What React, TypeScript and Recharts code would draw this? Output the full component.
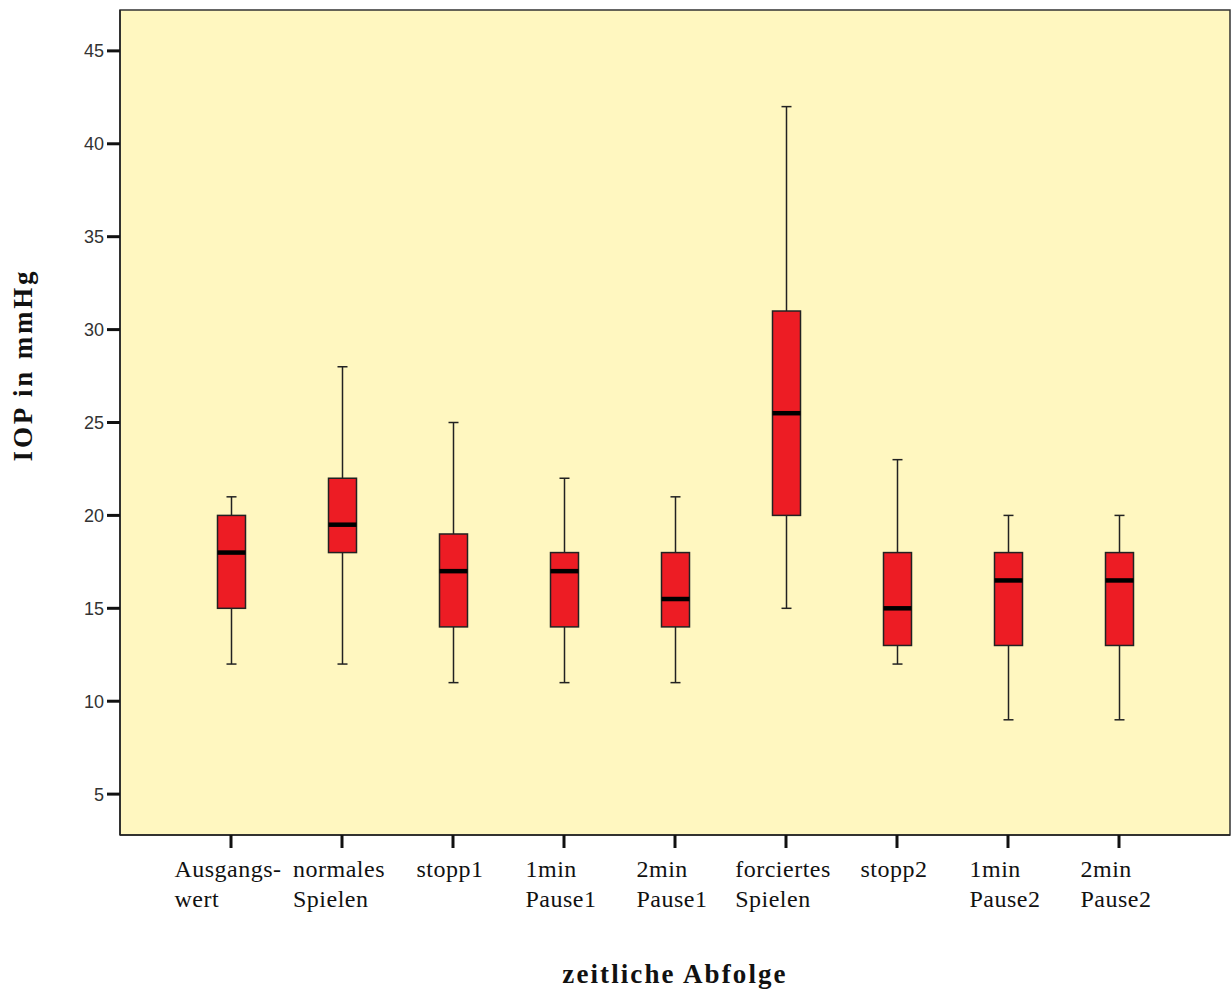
import { ComposedChart, Bar, XAxis, YAxis, ReferenceArea } from 'recharts'

// IOP box plot values
const categories = [
  'Ausgangs-|wert',
  'normales|Spielen',
  'stopp1',
  '1min|Pause1',
  '2min|Pause1',
  'forciertes|Spielen',
  'stopp2',
  '1min|Pause2',
  '2min|Pause2',
]
const mins    = [12, 12, 11, 11, 11, 15, 12, 9, 9]
const q1s     = [15, 18, 14, 14, 14, 20, 13, 13, 13]
const medians = [18, 19.5, 17, 17, 15.5, 25.5, 15, 16.5, 16.5]
const q3s     = [20, 22, 19, 18, 18, 31, 18, 18, 18]
const maxs    = [21, 28, 25, 22, 21, 42, 23, 20, 20]
const yTicks  = [5, 10, 15, 20, 25, 30, 35, 40, 45]

const data = categories.map((c, i) => ({
  pos:    i + 1,
  name:   c,
  min:    mins[i],
  q1:     q1s[i],
  median: medians[i],
  q3:     q3s[i],
  max:    maxs[i],
  range:  [mins[i], maxs[i]],
}))

const TICK_FONT = "24px 'Liberation Serif', 'Times New Roman', serif"
let ctx: CanvasRenderingContext2D | null = null
function textWidth(s: string) {
  if (!ctx) ctx = document.createElement('canvas').getContext('2d')
  if (!ctx) return s.length * 11
  ctx.font = TICK_FONT
  return ctx.measureText(s).width + s.length * 0.5
}

function XTick({ x, y, payload }: any) {
  const label = categories[Math.round(payload.value) - 1] ?? ''
  const lines = label.split('|')
  const w = Math.max(...lines.map(textWidth))
  return (
    <g>
      {lines.map((l, i) => (
        <text key={i} x={x - w / 2 - 3} y={y + 27 + i * 30} textAnchor="start"
          style={{ font: TICK_FONT, letterSpacing: 0.5 }} fill="#111">{l}</text>
      ))}
    </g>
  )
}

function BoxShape(props: any) {
  const { x, y, width, height, payload } = props
  const d = payload
  const span = d.max - d.min
  const py = (v: number) => y + ((d.max - v) / span) * height
  const cx = x + width / 2
  const yMin = py(d.min), yQ1 = py(d.q1), yMed = py(d.median), yQ3 = py(d.q3), yMax = py(d.max)
  const cap = 5
  return (
    <g>
      <line x1={cx} x2={cx} y1={yMax} y2={yQ3} stroke="#222" strokeWidth={1.5} />
      <line x1={cx} x2={cx} y1={yQ1} y2={yMin} stroke="#222" strokeWidth={1.5} />
      <line x1={cx - cap} x2={cx + cap} y1={yMax} y2={yMax} stroke="#222" strokeWidth={1.5} />
      <line x1={cx - cap} x2={cx + cap} y1={yMin} y2={yMin} stroke="#222" strokeWidth={1.5} />
      <rect x={x} y={yQ3} width={width} height={yQ1 - yQ3} fill="#ED1C24" stroke="#222" strokeWidth={1.5} />
      <line x1={x} x2={x + width} y1={yMed} y2={yMed} stroke="#000" strokeWidth={4.5} />
    </g>
  )
}

export default function App() {
  return (
    <div style={{ position: 'absolute', left: 0, top: 0, background: '#fff' }}>
      <ComposedChart width={1231} height={992} data={data}
        margin={{ top: 10, right: 1, left: 0, bottom: 0 }}>
        <ReferenceArea x1={0} x2={10} y1={2.8} y2={47.2} fill="#FFF7C0" fillOpacity={1}
          stroke="#333" strokeWidth={1.5} ifOverflow="visible" />
        <XAxis dataKey="pos" type="number" domain={[0, 10]} ticks={[1, 2, 3, 4, 5, 6, 7, 8, 9]}
          height={157} tickSize={13} tick={<XTick />} interval={0}
          axisLine={{ stroke: '#222', strokeWidth: 1.5 }}
          tickLine={{ stroke: '#111', strokeWidth: 3 }}
          label={({ viewBox }: any) => (
            <text x={viewBox.x + viewBox.width / 2} y={983} textAnchor="middle"
              style={{ font: "bold 27px 'Liberation Serif', serif", letterSpacing: 2.1 }}
              fill="#111">zeitliche Abfolge</text>
          )} />
        <YAxis type="number" domain={[2.8, 47.2]} ticks={yTicks} width={120} tickSize={13}
          tickMargin={3} allowDataOverflow
          tick={{ fill: '#333', fontSize: 18, fontFamily: "'Liberation Sans', Arial, sans-serif" }}
          axisLine={{ stroke: '#222', strokeWidth: 1.5 }}
          tickLine={{ stroke: '#111', strokeWidth: 3 }}
          label={() => (
            <text x={32} y={365} textAnchor="middle" transform="rotate(-90 32 365)"
              style={{ font: "bold 27px 'Liberation Serif', serif", letterSpacing: 2.8 }}
              fill="#111">IOP in mmHg</text>
          )} />
        <Bar dataKey="range" barSize={28} shape={<BoxShape />} isAnimationActive={false} />
      </ComposedChart>
    </div>
  )
}
